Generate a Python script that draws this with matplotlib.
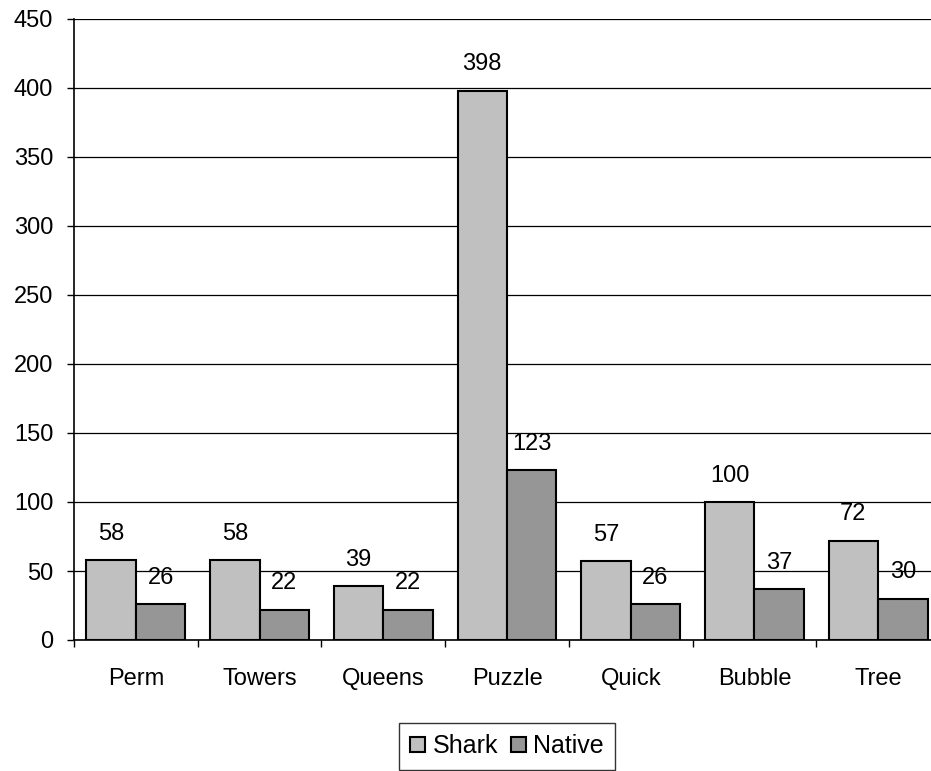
import matplotlib
matplotlib.use("Agg")
import matplotlib.pyplot as plt
import numpy as np

plt.rcParams['font.family'] = ['Liberation Sans', 'DejaVu Sans']

categories = ["Perm", "Towers", "Queens", "Puzzle", "Quick", "Bubble", "Tree"]
shark = [58, 58, 39, 398, 57, 100, 72]
native = [26, 22, 22, 123, 26, 37, 30]
series_names = ["Shark", "Native"]
yticks = [0, 50, 100, 150, 200, 250, 300, 350, 400, 450]

W, H = 931, 771
FS = 17
fig = plt.figure(figsize=(W / 100, H / 100), dpi=100)
ax = fig.add_axes([74 / W, (H - 640) / H, 866 / W, 621 / H])

x = np.arange(len(categories))
w = 0.4
b1 = ax.bar(x - w / 2, shark, w, color="#c0c0c0", edgecolor="black", linewidth=1.5, label=series_names[0], zorder=2)
b2 = ax.bar(x + w / 2, native, w, color="#969696", edgecolor="black", linewidth=1.5, label=series_names[1], zorder=2)

for bars, vals in ((b1, shark), (b2, native)):
    for r, v in zip(bars, vals):
        ax.annotate(str(v), (r.get_x() + r.get_width() / 2, r.get_height()),
                    xytext=(0, 19), textcoords="offset points",
                    ha="center", va="center", fontsize=FS, zorder=3)

ax.set_xlim(-0.5, len(categories) - 0.5)
ax.set_ylim(0, 450)
ax.set_yticks(yticks)
ax.set_yticklabels([str(t) for t in yticks], fontsize=FS)
ax.yaxis.grid(True, color="black", linewidth=0.9)
ax.set_axisbelow(True)

ax.set_xticks(np.arange(-0.5, len(categories), 1.0))
ax.set_xticklabels([])
ax.set_xticks(x, minor=True)
ax.set_xticklabels(categories, minor=True, fontsize=FS)
ax.tick_params(axis="x", which="major", direction="out", length=5, width=1, color="black")
ax.tick_params(axis="x", which="minor", length=0, pad=20)
ax.tick_params(axis="y", direction="out", length=5, width=1, pad=10, color="black")

for s in ("top", "right"):
    ax.spines[s].set_visible(False)
ax.spines["left"].set_linewidth(1.2)
ax.spines["bottom"].set_linewidth(1.2)

leg = fig.legend(handles=[b1, b2], labels=series_names, loc="upper center",
                 bbox_to_anchor=(507 / W, 1 - 723 / H), ncol=2, fontsize=18,
                 frameon=True, fancybox=False, edgecolor="black",
                 handlelength=0.6, handleheight=0.6, handletextpad=0.3,
                 columnspacing=0.5, borderpad=0.45, borderaxespad=0)
leg.get_frame().set_linewidth(1.0)

fig.savefig("out.png", dpi=100)
